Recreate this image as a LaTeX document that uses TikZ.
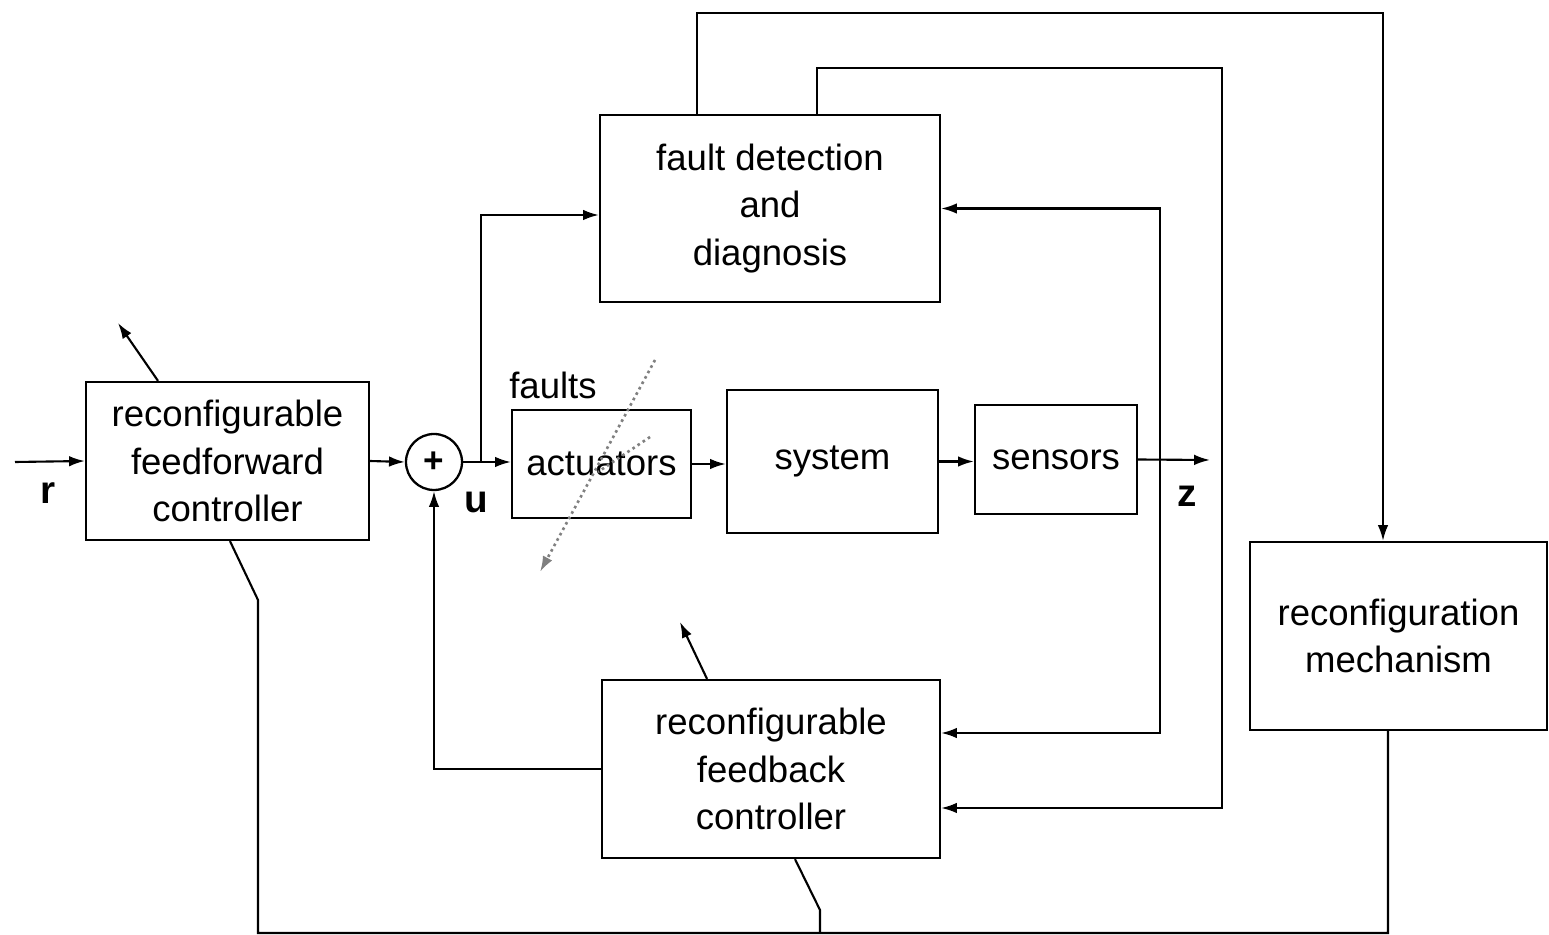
\documentclass[tikz,border=0pt]{standalone}
\usepackage{fontspec}
\setmainfont{Liberation Sans}
\usetikzlibrary{arrows.meta}
\begin{document}
\begin{tikzpicture}[x=0.02cm,y=-0.02cm,
  blk/.style={draw,line width=1.3pt,align=center,inner sep=0pt,font=\fontsize{20.8pt}{27pt}\selectfont},
  arr/.style={-{Latex[length=9pt,width=6pt]}},
  ln/.style={line width=1.2pt},
  lbl/.style={font=\fontsize{22pt}{24pt}\selectfont\bfseries},
  flt/.style={dotted,line width=1.5pt,gray}]
\useasboundingbox (0,0) rectangle (1549,935);
% blocks
\node[blk,minimum width=5.66cm,minimum height=3.16cm] (ff) at (227.5,461) {reconfigurable\\feedforward\\controller};
\node[draw,line width=1.3pt,circle,minimum size=1.12cm,inner sep=0pt,font=\fontsize{20pt}{22pt}\selectfont\bfseries] (sum) at (434,462) {+};
\node[blk,minimum width=6.8cm,minimum height=3.74cm] (fdd) at (770,208.5) {fault detection\\and\\diagnosis};
\node[blk,minimum width=3.58cm,minimum height=2.16cm] (act) at (601.5,464) {actuators};
\node[blk,minimum width=4.22cm,minimum height=2.86cm] (sys) at (832.5,461.5) {system};
\node[blk,minimum width=3.24cm,minimum height=2.18cm] (sens) at (1056,459.5) {sensors};
\node[blk,minimum width=5.94cm,minimum height=3.76cm] (rm) at (1398.5,636) {reconfiguration\\mechanism};
\node[blk,minimum width=6.76cm,minimum height=3.56cm] (fb) at (771,769) {reconfigurable\\feedback\\controller};
% labels
\node[lbl] (r) at (48,493) {r};
\node[lbl] (u) at (476,502) {u};
\node[lbl] (z) at (1187,496) {z};
\node[font=\fontsize{20.8pt}{24pt}\selectfont] (faults) at (553,385) {faults};
% coordinates
\coordinate (rin) at (15,462);
\coordinate (uj) at (481,462);
\coordinate (zout) at (1210,460);
\coordinate (zj) at (1160,460);
\coordinate (dg) at (1222,68);
\coordinate (tp) at (1383,13);
\coordinate (bl) at (258,933);
\coordinate (bk) at (258,600);
\coordinate (bj) at (820,933);
\coordinate (bk2) at (820,910);
\coordinate (ffa) at (118,323);
\coordinate (fba) at (680,622);
\coordinate (f1) at (655,360);
\coordinate (f2) at (540,572);
\coordinate (f3) at (650,437);
\coordinate (f4) at (598,472);
% forward path
\draw[ln,arr] (rin) -- (ff.west);
\draw[ln,arr] (ff.east) -- (sum.west);
\draw[ln] (sum.east) -- (uj);
\draw[ln,arr] (uj) -- (uj -| act.west);
\draw[ln,arr] (uj) |- ([yshift=-0.13cm]fdd.west);
\draw[ln,arr] (act.east) -- (act.east -| sys.west);
\draw[ln,arr] (sys.east) -- (sys.east -| sens.west);
\draw[ln,arr] (sens.east) -- (zout);
% z feedback
\draw[ln,arr] (zj) |- (fdd.east);
\draw[ln,arr] (zj) |- ([yshift=0.72cm]fb.east);
% diagnosis lines
\draw[ln,arr] ([xshift=0.94cm]fdd.north) |- (dg) |- ([yshift=-0.78cm]fb.east);
\draw[ln,arr] ([xshift=-1.46cm]fdd.north) |- (tp) -- (tp |- rm.north);
% reconfiguration outputs
\draw[ln] ([xshift=-0.21cm]rm.south) |- (bl) -- (bk) -- ([xshift=0.05cm]ff.south);
\draw[ln] (bj) -- (bk2) -- ([xshift=0.48cm]fb.south);
% feedback controller to sum
\draw[ln,arr] (fb.west) -| (sum.south);
% adjustable arrows
\draw[ln,arr] ([xshift=-1.39cm]ff.north) -- (ffa);
\draw[ln,arr] ([xshift=-1.28cm]fb.north) -- (fba);
% faults
\draw[flt,arr] (f1) -- (f2);
\draw[flt] (f3) -- (f4);
\end{tikzpicture}
\end{document}
